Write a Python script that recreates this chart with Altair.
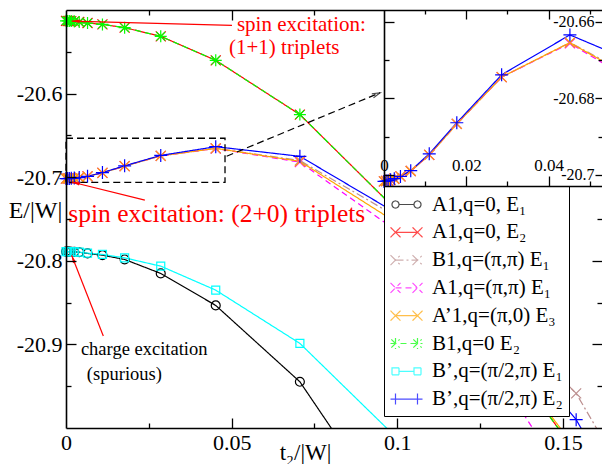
import math
import altair as alt
import pandas as pd

# ---------------- data ----------------
T = [0.0, 0.0005, 0.001, 0.0016, 0.0025, 0.004, 0.0065, 0.011, 0.0177, 0.0286, 0.0452, 0.0706, 0.104, 0.154, 0.228]

A1_Q0_E1 = [-20.7890, -20.7890, -20.7891, -20.7892, -20.7894, -20.7898, -20.7912, -20.7933, -20.7984, -20.8151, -20.8534, -20.9447, -21.140, -21.600, -22.300]
A1_Q0_E2 = [-20.5130, -20.5131, -20.5132, -20.5133, -20.5136, -20.5143, -20.5156, -20.5172, -20.5211, -20.5315, -20.5602, -20.6251, -20.756, -21.030, -21.450]
B1_PP_E1 = [-20.7017, -20.7016, -20.7015, -20.7013, -20.7010, -20.7004, -20.6990, -20.6948, -20.6867, -20.6745, -20.6655, -20.6800, -20.757, -20.9586, -21.460]
A1_PP_E1 = [-20.7017, -20.7016, -20.7015, -20.7013, -20.7010, -20.7004, -20.6990, -20.6948, -20.6867, -20.6745, -20.6657, -20.6820, -20.776, -21.080, -21.700]
A1P_P0_E3 = [-20.7017, -20.7016, -20.7015, -20.7013, -20.7010, -20.7004, -20.6990, -20.6948, -20.6867, -20.6745, -20.6655, -20.6810, -20.765, -21.025, -21.600]
B1_Q0_E2 = [-20.5130, -20.5131, -20.5132, -20.5133, -20.5136, -20.5143, -20.5156, -20.5172, -20.5211, -20.5315, -20.5602, -20.6251, -20.756, -21.030, -21.450]
BP_P2P_E1 = [-20.7890, -20.7890, -20.7891, -20.7892, -20.7893, -20.7897, -20.7908, -20.7924, -20.7965, -20.8064, -20.8351, -20.8988, -21.028, -21.400, -22.000]
BP_P2P_E2 = [-20.7017, -20.7016, -20.7015, -20.7013, -20.7010, -20.7004, -20.6989, -20.6945, -20.6864, -20.6739, -20.6635, -20.6750, -20.753, -20.990, -21.500]

SERIES = ["A1,q=0, E\u2081", "A1,q=0, E\u2082", "B1,q=(\u03c0,\u03c0) E\u2081", "A1,q=(\u03c0,\u03c0) E\u2081",
          "A\u20191,q=(\u03c0,0) E\u2083", "B1,q=0 E\u2082", "B\u2019,q=(\u03c0/2,\u03c0) E\u2081", "B\u2019,q=(\u03c0/2,\u03c0) E\u2082"]
VALUES = [A1_Q0_E1, A1_Q0_E2, B1_PP_E1, A1_PP_E1, A1P_P0_E3, B1_Q0_E2, BP_P2P_E1, BP_P2P_E2]
INSET_IDX = [2, 3, 4, 7]

# annotation texts and anchor points (data units)
RED_SMALL_TEXT = ["spin excitation:", "(1+1) triplets"]
RED_SMALL_T = [0.0516, 0.0492]
RED_SMALL_E = [-20.5250, -20.5525]
RED_BIG_TEXT = ["spin excitation: (2+0) triplets"]
RED_BIG_T = [0.0007]
RED_BIG_E = [-20.7535]
BLACK_TEXT = ["charge excitation", "(spurious)"]
BLACK_T = [0.0045, 0.0063]
BLACK_E = [-20.9128, -20.9427]
ARROW_T0 = [0.0501, 0.0238, 0.01126]
ARROW_E0 = [-20.5184, -20.7275, -20.8900]
ARROW_T1 = [0.0017, 0.0017, 0.0017]
ARROW_E1 = [-20.5132, -20.7057, -20.7933]
DASH_ARROW_T = [0.0485, 0.0948]
DASH_ARROW_E = [-20.6749, -20.5990]
BOX_T = [0.0, 0.048]
BOX_E = [-20.7063, -20.6534]

# ---------------- styles / layout ----------------
FONT = "Liberation Serif"
W, H = 536, 418
XM_DOM = [0.0, 0.1618]
YM_DOM = [-21.0, -20.5]
IX_DOM = [0.0, 0.053]
IY_DOM = [-20.7029, -20.657]
IX_RANGE = [318, 536]
IY_RANGE = [176, 0]

COLORS = ["#000000", "#ff0000", "#bc8f8f", "#ff00ff", "#ffa500", "#00ff00", "#00ffff", "#0000ff"]
DASHES = [[1, 0], [1, 0], [8, 3, 2, 3], [6, 4], [1, 0], [6, 4], [1, 0], [1, 0]]
X_PATH = "M-1,-1L1,1M-1,1L1,-1"
AST_PATH = "M-1,0L1,0M0,-1L0,1M-0.72,-0.72L0.72,0.72M-0.72,0.72L0.72,-0.72"
PLUS_PATH = "M-1,0L1,0M0,-1L0,1"
MARKERS = ["circle", X_PATH, X_PATH, X_PATH, X_PATH, AST_PATH, "square", PLUS_PATH]
MSIZES = [80, 100, 100, 100, 100, 144, 64, 169]

# legend symbols ("marker - line - marker"), designed in pixels and scaled to the symbol unit
LEG_SIZE = 520
R = math.sqrt(LEG_SIZE) / 2


def n(v):
    return f"{v / R:.4f}"


def xmark(c, h):
    return f"M{n(c - h)},{n(-h)}L{n(c + h)},{n(h)}M{n(c - h)},{n(h)}L{n(c + h)},{n(-h)}"


def circ(c, r):
    return (f"M{n(c + r)},0A{n(r)},{n(r)},0,1,1,{n(c - r)},0"
            f"A{n(r)},{n(r)},0,1,1,{n(c + r)},0")


def sq(c, h):
    return f"M{n(c - h)},{n(-h)}L{n(c + h)},{n(-h)}L{n(c + h)},{n(h)}L{n(c - h)},{n(h)}Z"


def vbar(c, h):
    return f"M{n(c)},{n(-h)}L{n(c)},{n(h)}"


LEG_CIRCLE = f"M{n(-7.5)},0L{n(7.5)},0" + circ(-11, 3.5) + circ(11, 3.5)
LEG_X = f"M{n(-11)},0L{n(11)},0" + xmark(-11, 5) + xmark(11, 5)
LEG_AST = f"M{n(-16)},0L{n(16)},0" + xmark(-11, 4.2) + xmark(11, 4.2) + vbar(-11, 5.5) + vbar(11, 5.5)
LEG_SQ = f"M{n(-7.5)},0L{n(7.5)},0" + sq(-11, 3.5) + sq(11, 3.5)
LEG_PLUS = f"M{n(-16)},0L{n(16)},0" + vbar(-11, 5.5) + vbar(11, 5.5)
LEG_SYMBOLS = [LEG_CIRCLE, LEG_X, LEG_X, LEG_X, LEG_X, LEG_AST, LEG_SQ, LEG_PLUS]

rows = []
for k, (s, vals) in enumerate(zip(SERIES, VALUES)):
    for t, v in zip(T, vals):
        rows.append({"series": s, "k": k, "t": t, "E": v})
df = pd.DataFrame(rows)

color_scale = alt.Scale(domain=SERIES, range=COLORS)
dash_scale = alt.Scale(domain=SERIES, range=DASHES)
shape_scale = alt.Scale(domain=SERIES, range=LEG_SYMBOLS)

legend_kw = dict(orient="none", legendX=318, legendY=176, title=None, direction="vertical",
                 labelFont=FONT, labelFontSize=21, labelColor="black", symbolSize=LEG_SIZE,
                 symbolStrokeWidth=1.2, padding=6, rowPadding=4.8, labelOffset=13, symbolOffset=4,
                 strokeColor="black", fillColor="white", labelLimit=400, cornerRadius=0)

# ---------------- main coordinate system ----------------
x_main = alt.X("t:Q", scale=alt.Scale(domain=XM_DOM, nice=False, zero=False),
               axis=alt.Axis(values=[0, 0.05, 0.1, 0.15], format="~g", labelFlush=False,
                             ticks=False, tickSize=0, labelPadding=4, labelFontSize=22,
                             title="t\u2082/|W|", titleX=239, titleY=24, titleAlign="center",
                             titleBaseline="middle", titleFontSize=23, zindex=1))
y_main = alt.Y("E:Q", scale=alt.Scale(domain=YM_DOM, nice=False, zero=False),
               axis=alt.Axis(values=[-20.9, -20.8, -20.7, -20.6],
                             labelExpr="'-' + format(abs(datum.value), '.1f')",
                             labelFlush=False, ticks=False, tickSize=0, labelPadding=4,
                             labelFontSize=22, title="E/|W|", titleAngle=0, titleX=-31,
                             titleY=200, titleAlign="center", titleBaseline="middle",
                             titleFontSize=24, zindex=1))

legend_layer = alt.Chart(df).transform_filter("false").mark_point(filled=False, strokeWidth=1.2).encode(
    x=x_main, y=y_main,
    color=alt.Color("series:N", scale=color_scale, legend=alt.Legend(**legend_kw)),
    shape=alt.Shape("series:N", scale=shape_scale, legend=alt.Legend(**legend_kw)),
    strokeDash=alt.StrokeDash("series:N", scale=dash_scale, legend=alt.Legend(**legend_kw)),
)

main_lines = alt.Chart(df).mark_line(strokeWidth=1.2, clip=True).encode(
    x=x_main, y=y_main,
    color=alt.Color("series:N", scale=color_scale),
    strokeDash=alt.StrokeDash("series:N", scale=dash_scale),
)

main_points = []
for k, s in enumerate(SERIES):
    main_points.append(
        alt.Chart(df).transform_filter(
            f"datum.k == {k} && datum.E >= {YM_DOM[0]} && datum.t <= {XM_DOM[1]}"
        ).mark_point(shape=MARKERS[k], size=MSIZES[k], filled=False, strokeWidth=1.2, opacity=1).encode(
            x=x_main, y=y_main, color=alt.Color("series:N", scale=color_scale)
        )
    )


def px_angle(t0, e0, t1, e1):
    dx = (t1 - t0) * W / (XM_DOM[1] - XM_DOM[0])
    dy = -(e1 - e0) * H / (YM_DOM[1] - YM_DOM[0])
    return math.degrees(math.atan2(dx, -dy)) % 360


arrows = pd.DataFrame({"t": ARROW_T0, "E": ARROW_E0, "t2": ARROW_T1, "E2": ARROW_E1})
heads = pd.DataFrame({"t": ARROW_T1, "E": ARROW_E1,
                      "ang": [px_angle(a, b, c, d) for a, b, c, d in zip(ARROW_T0, ARROW_E0, ARROW_T1, ARROW_E1)]})
dash_line = pd.DataFrame({"t": [DASH_ARROW_T[0]], "E": [DASH_ARROW_E[0]], "t2": [DASH_ARROW_T[1]], "E2": [DASH_ARROW_E[1]]})
dash_head = pd.DataFrame({"t": [DASH_ARROW_T[1]], "E": [DASH_ARROW_E[1]],
                          "ang": [px_angle(DASH_ARROW_T[0], DASH_ARROW_E[0], DASH_ARROW_T[1], DASH_ARROW_E[1])]})
box = pd.DataFrame({"t": [BOX_T[0]], "t2": [BOX_T[1]], "E": [BOX_E[0]], "E2": [BOX_E[1]]})

HEAD_FILLED = "M0,0L0.42,2L-0.42,2Z"
HEAD_OPEN = "M-0.55,2L0,0L0.55,2"

ann_box = alt.Chart(box).mark_rect(fillOpacity=0, stroke="black", strokeDash=[7, 4], strokeWidth=1.3).encode(
    x=x_main, x2="t2:Q", y=y_main, y2="E2:Q")
ann_dline = alt.Chart(dash_line).mark_rule(color="black", strokeDash=[7, 4], strokeWidth=1.2).encode(
    x=x_main, x2="t2:Q", y=y_main, y2="E2:Q")
ann_dhead = alt.Chart(dash_head).mark_point(shape=HEAD_OPEN, size=64, filled=False, color="black", strokeWidth=1.2).encode(
    x=x_main, y=y_main, angle=alt.Angle("ang:Q", scale=None))
ann_lines = alt.Chart(arrows).mark_rule(color="red", strokeWidth=1.2).encode(
    x=x_main, x2="t2:Q", y=y_main, y2="E2:Q")
ann_heads = alt.Chart(heads).mark_point(shape=HEAD_FILLED, size=64, filled=True, color="red", strokeWidth=0, opacity=1).encode(
    x=x_main, y=y_main, angle=alt.Angle("ang:Q", scale=None))
ann_red_small = alt.Chart(pd.DataFrame({"t": RED_SMALL_T, "E": RED_SMALL_E, "label": RED_SMALL_TEXT})).mark_text(
    align="left", baseline="alphabetic", font=FONT, fontSize=21, color="red").encode(x=x_main, y=y_main, text="label:N")
ann_red_big = alt.Chart(pd.DataFrame({"t": RED_BIG_T, "E": RED_BIG_E, "label": RED_BIG_TEXT})).mark_text(
    align="left", baseline="alphabetic", font=FONT, fontSize=25.5, color="red").encode(x=x_main, y=y_main, text="label:N")
ann_black = alt.Chart(pd.DataFrame({"t": BLACK_T, "E": BLACK_E, "label": BLACK_TEXT})).mark_text(
    align="left", baseline="alphabetic", font=FONT, fontSize=18.5, color="black").encode(x=x_main, y=y_main, text="label:N")

main_group = alt.layer(legend_layer, main_lines, *main_points, ann_box, ann_dline, ann_dhead,
                       ann_lines, ann_heads, ann_red_small, ann_red_big, ann_black)


# ---------------- frame tick helpers ----------------
def tick_axis(orient, offset, values, size, domain=False):
    return alt.Axis(orient=orient, offset=offset, values=values, tickSize=size, labels=False,
                    domain=domain, title=None, grid=False, zindex=1)


def tick_layer(xdom, ydom, xaxis, yaxis, xrange=None, yrange=None):
    d = pd.DataFrame({"t": xdom, "E": ydom})
    xs = alt.Scale(domain=xdom, nice=False, zero=False) if xrange is None else alt.Scale(domain=xdom, range=xrange, nice=False, zero=False)
    ys = alt.Scale(domain=ydom, nice=False, zero=False) if yrange is None else alt.Scale(domain=ydom, range=yrange, nice=False, zero=False)
    return alt.Chart(d).mark_point(opacity=0).encode(
        x=alt.X("t:Q", scale=xs, axis=xaxis), y=alt.Y("E:Q", scale=ys, axis=yaxis))


MAJ_X = [0.05, 0.1, 0.15]
MIN_X = [0.025, 0.075, 0.125]
MAJ_Y = [-20.9, -20.8, -20.7, -20.6]
MIN_Y = [-20.95, -20.85, -20.75, -20.65, -20.55]

main_t1 = tick_layer(XM_DOM, YM_DOM, tick_axis("top", -H, MAJ_X, 10), tick_axis("right", -W, MAJ_Y, 10))
main_t2 = tick_layer(XM_DOM, YM_DOM, tick_axis("top", -H, MIN_X, 5), tick_axis("right", -W, MIN_Y, 5))
main_t3 = tick_layer(XM_DOM, YM_DOM, tick_axis("bottom", -H, [0.05], 10, domain=True),
                     tick_axis("left", -W, [-20.9, -20.8], 10))
main_t4 = tick_layer(XM_DOM, YM_DOM, tick_axis("bottom", -H, [0.025, 0.075], 5),
                     tick_axis("left", -W, [-20.95, -20.85, -20.75], 5))

# ---------------- inset ----------------
x_in = alt.X("t:Q", scale=alt.Scale(domain=IX_DOM, range=IX_RANGE, nice=False, zero=False),
             axis=alt.Axis(orient="top", offset=-IY_RANGE[0], values=[0, 0.02, 0.04], format="~g",
                           tickSize=10, labelPadding=2, labelFontSize=17, labelFlush=False,
                           labelOverlap=False, domain=True, title=None, zindex=1))
y_in = alt.Y("E:Q", scale=alt.Scale(domain=IY_DOM, range=IY_RANGE, nice=False, zero=False),
             axis=alt.Axis(orient="left", offset=-W, values=[-20.7, -20.68, -20.66],
                           labelExpr="'-' + format(abs(datum.value), '~g')", tickSize=7,
                           labelPadding=1, labelFontSize=16, labelFlush=False, labelOverlap=False,
                           domain=False, title=None, zindex=1))

inset_bg = alt.Chart(pd.DataFrame({"t": [IX_DOM[0]], "t2": [IX_DOM[1]], "E": [IY_DOM[0]], "E2": [IY_DOM[1]]})).mark_rect(
    fill="white", strokeWidth=0).encode(x=x_in, x2="t2:Q", y=y_in, y2="E2:Q")

inset_filter = "(" + " || ".join(f"datum.k == {k}" for k in INSET_IDX) + ") && datum.t <= 0.08"
inset_lines = alt.Chart(df).transform_filter(inset_filter).mark_line(strokeWidth=1.2, clip=True).encode(
    x=x_in, y=y_in,
    color=alt.Color("series:N", scale=color_scale),
    strokeDash=alt.StrokeDash("series:N", scale=dash_scale),
)
inset_points = []
for k in INSET_IDX:
    inset_points.append(
        alt.Chart(df).transform_filter(f"datum.k == {k} && datum.t <= {IX_DOM[1]}").mark_point(
            shape=MARKERS[k], size=MSIZES[k], filled=False, strokeWidth=1.2, opacity=1, clip=True).encode(
            x=x_in, y=y_in, color=alt.Color("series:N", scale=color_scale))
    )
inset_group = alt.layer(inset_bg, inset_lines, *inset_points)

IMAJ_X = [0.02, 0.04]
IMIN_X = [0.01, 0.03, 0.05]
IMAJ_Y = [-20.7, -20.68, -20.66]
IMIN_Y = [-20.69, -20.67]
in_t1 = tick_layer(IX_DOM, IY_DOM, tick_axis("top", -IY_RANGE[0], IMIN_X, 5),
                   tick_axis("left", -W, IMIN_Y, 4), IX_RANGE, IY_RANGE)
in_t2 = tick_layer(IX_DOM, IY_DOM, tick_axis("bottom", -H, IMAJ_X, 9),
                   tick_axis("right", -(W - IX_RANGE[0]), IMAJ_Y, 10, domain=True), IX_RANGE, IY_RANGE)
in_t3 = tick_layer(IX_DOM, IY_DOM, tick_axis("bottom", -H, IMIN_X, 4),
                   tick_axis("right", -(W - IX_RANGE[0]), IMIN_Y, 5), IX_RANGE, IY_RANGE)

chart = alt.layer(
    main_group, main_t1, main_t2, main_t3, main_t4, inset_group, in_t1, in_t2, in_t3
).resolve_scale(x="independent", y="independent").properties(
    width=W, height=H,
    autosize=alt.AutoSizeParams(type="none"),
    padding={"left": 58, "top": 2, "right": 0, "bottom": 36},
).configure_view(strokeWidth=0).configure_axis(
    grid=False, domainColor="black", tickColor="black", labelColor="black", titleColor="black",
    labelFont=FONT, titleFont=FONT, titleFontWeight="normal", domainWidth=1.6, tickWidth=1.3,
)

chart.save("out.html", embed_options={"renderer": "svg", "actions": False})
